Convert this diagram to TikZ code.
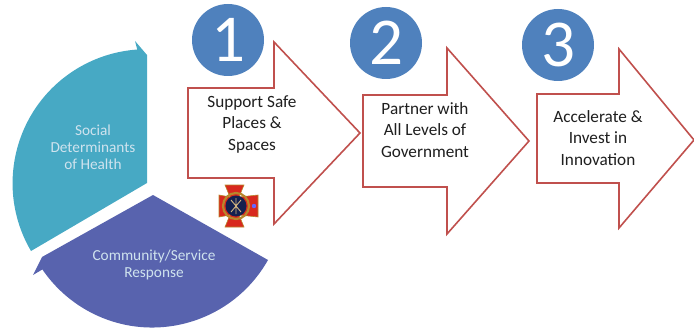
\documentclass[tikz,border=0pt]{standalone}
\usepackage{fontspec}
\setmainfont{Carlito}
\definecolor{tealpart}{HTML}{47A9C4}
\definecolor{bluepart}{HTML}{5863AE}
\definecolor{numblue}{HTML}{4F81BD}
\definecolor{arrowred}{HTML}{C0504D}
\definecolor{pietext}{HTML}{CFE3EE}
\definecolor{steptext}{HTML}{1F1F1F}
\definecolor{badgered}{HTML}{D8281E}
\definecolor{badgegold}{HTML}{B8862B}
\definecolor{badgenavy}{HTML}{14204F}
\begin{document}
\begin{tikzpicture}[x=1pt,y=1pt]
     \tikzset{numcircle/.style={circle,fill=numblue,text=white,minimum size=72pt,inner sep=0pt,font=\fontsize{67}{67}\selectfont}}
     \tikzset{steparrow/.style={draw=arrowred,line width=1.6pt,line join=miter,fill=white}}
     \tikzset{steplabel/.style={align=center,inner sep=0pt,text=steptext,font=\fontsize{17.2}{21.5}\selectfont}}
     \tikzset{pielabel/.style={align=center,inner sep=0pt,text=pietext,font=\fontsize{15.3}{17}\selectfont}}
     \useasboundingbox (0,0) rectangle (694,-329);
     \fill [tealpart] (147,-183) -- (31,-251) arc (210.4:94:134) -- (135,-41) -- (147,-55) -- cycle;
     \node [pielabel] (social) at (93,-147) {Social\\Determinants\\of Health};
     \fill [bluepart] (153,-195) -- (268,-260) arc (-29.5:-145.7:133) -- (33,-275) -- (42,-257) -- cycle;
     \node [pielabel] (community) at (154,-265) {Community/Service\\Response};
     \draw [steparrow] (188,-88) -- (274,-88) -- (274,-42) -- (360,-133) -- (274,-224) -- (274,-178) -- (188,-178) -- cycle;
     \draw [steparrow] (363,-95) -- (447,-95) -- (447,-48) -- (529,-141) -- (447,-234) -- (447,-187) -- (363,-187) -- cycle;
     \draw [steparrow] (537,-94) -- (619,-94) -- (619,-49) -- (694,-140) -- (619,-228) -- (619,-183) -- (537,-183) -- cycle;
     \node [numcircle] (one) at (228,-40) {1};
     \node [numcircle] (two) at (386,-43) {2};
     \node [numcircle] (three) at (558,-45) {3};
     \node [steplabel] (safe) at (252,-124) {Support Safe\\Places \&\\Spaces};
     \node [steplabel] (partner) at (425,-130) {Partner with\\All Levels of\\Government};
     \node [steplabel] (innovate) at (598,-138) {Accelerate \&\\Invest in\\Innovation};
     % fire department badge
     \fill [badgered,draw=badgegold,line width=.6pt] (225,-185) -- (244,-185) -- (239,-197) -- (258,-195) -- (258,-217) -- (239,-215) -- (244,-227) -- (225,-227) -- (230,-215) -- (219,-217) -- (219,-195) -- (230,-197) -- cycle;
     \draw [badgegold,line width=2.2pt] (236,-206) circle (13);
     \fill [badgenavy] (236,-206) circle (10.5);
     \draw [badgegold!60!white,line width=.9pt] (231,-212) -- (241,-200) (241,-212) -- (231,-200) (236,-198) -- (236,-214);
     \fill [blue!60!white] (254,-206) circle (2.2);
\end{tikzpicture}
\end{document}
